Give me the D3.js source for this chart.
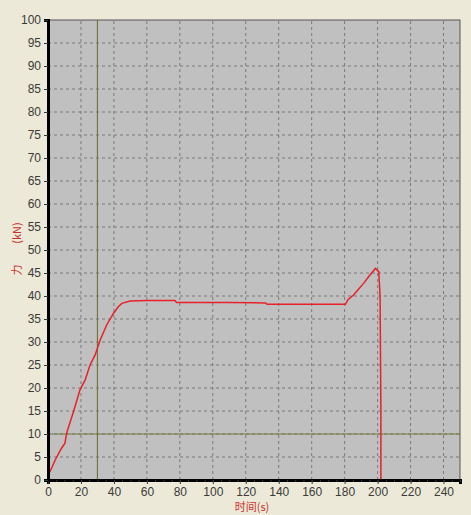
<!DOCTYPE html>
<html>
<head>
<meta charset="utf-8">
<script src="https://cdn.jsdelivr.net/npm/d3@7"></script>
<style>
  body { margin: 0; background: #ece9d8; }
  svg { display: block; }
  .tick text { font-family: "Liberation Sans", Arial, sans-serif; font-size: 12px; fill: #3a3a3a; }
</style>
</head>
<body>
<div id="chart"></div>
<script>
// time (s) and force (kN)
const timeS  = [0, 1.2, 4.3, 8, 10.3, 11.3, 15.4, 19.4, 22.5, 25.5, 28.6, 31.6, 35.6, 39.7, 42.5, 44.8, 49.8, 60, 77, 78, 110, 132, 133, 160, 180.5, 182, 185.4, 188, 191.6, 195, 198.7, 200.7, 201.5, 202, 202];
const forceKN = [1.6, 1.8, 4.3, 6.8, 8, 10.2, 14.8, 19.6, 21.7, 25, 27.2, 30.4, 33.7, 36.2, 37.6, 38.4, 38.9, 39, 39, 38.6, 38.6, 38.5, 38.2, 38.2, 38.2, 39.2, 40.2, 41.3, 42.8, 44.4, 46, 45.3, 40, 15, 0];
const xTicks = d3.range(0, 241, 20);
const yTicks = d3.range(0, 101, 5);
const markerTime = 30;
const markerForce = 10;

const W = 471, H = 515;
const margin = { left: 48, top: 20, right: 11, bottom: 35 };

const svg = d3.select("#chart").append("svg")
  .attr("width", W).attr("height", H);

const x = d3.scaleLinear().domain([0, 250]).range([margin.left, W - margin.right]);
const y = d3.scaleLinear().domain([0, 100]).range([H - margin.bottom, margin.top]);

svg.append("rect")
  .attr("x", x(0)).attr("y", y(100))
  .attr("width", x(250) - x(0)).attr("height", y(0) - y(100))
  .attr("fill", "#c0c0c0")
  .attr("stroke", "#555").attr("stroke-width", 1);

// dashed grid
svg.append("g").selectAll("line").data(xTicks.filter(d => d > 0)).join("line")
  .attr("x1", d => x(d)).attr("x2", d => x(d))
  .attr("y1", y(0)).attr("y2", y(100))
  .attr("stroke", "#7a7a7a").attr("stroke-dasharray", "3,3");
svg.append("g").selectAll("line").data(yTicks.filter(d => d > 0 && d < 100)).join("line")
  .attr("x1", x(0)).attr("x2", x(250))
  .attr("y1", d => y(d)).attr("y2", d => y(d))
  .attr("stroke", "#7a7a7a").attr("stroke-dasharray", "3,3");

// marker lines
svg.append("line")
  .attr("x1", x(markerTime)).attr("x2", x(markerTime))
  .attr("y1", y(0)).attr("y2", y(100))
  .attr("stroke", "#76763c").attr("stroke-width", 1.2);
svg.append("line")
  .attr("x1", x(0)).attr("x2", x(250))
  .attr("y1", y(markerForce)).attr("y2", y(markerForce))
  .attr("stroke", "#76763c").attr("stroke-width", 1.2);

// curve
const pts = timeS.map((t, i) => [t, forceKN[i]]);
svg.append("path")
  .datum(pts)
  .attr("fill", "none")
  .attr("stroke", "#e8202a")
  .attr("stroke-width", 1.5)
  .attr("d", d3.line().x(d => x(d[0])).y(d => y(d[1])));

// axes
const xAxis = svg.append("g")
  .attr("transform", `translate(0,${y(0)})`)
  .call(d3.axisBottom(x).tickValues(xTicks).tickSize(4).tickPadding(3));
svg.append("g")
  .attr("transform", `translate(0,${y(0)})`)
  .call(d3.axisBottom(x).tickValues(d3.range(0, 251, 5)).tickSize(2).tickFormat(""))
  .call(g => g.select(".domain").remove());
xAxis.select(".domain").attr("stroke", "#000").attr("stroke-width", 3);

const yAxis = svg.append("g")
  .attr("transform", `translate(${x(0)},0)`)
  .call(d3.axisLeft(y).tickValues(yTicks).tickSize(4).tickPadding(3));
yAxis.select(".domain").attr("stroke", "#000").attr("stroke-width", 3);

svg.selectAll(".tick line").attr("stroke", "#333");

// labels
const labelStyle = sel => sel
  .attr("fill", "#c8322e")
  .style("font-family", "'Noto Sans CJK SC', sans-serif")
  .style("font-size", "11px");

svg.append("text")
  .attr("transform", "translate(21,270) rotate(-90)")
  .attr("text-anchor", "middle")
  .call(labelStyle)
  .text("力");
svg.append("text")
  .attr("transform", "translate(21,233) rotate(-90)")
  .attr("text-anchor", "middle")
  .call(labelStyle)
  .text("(kN)");

svg.append("text")
  .attr("x", 252).attr("y", 511)
  .attr("text-anchor", "middle")
  .call(labelStyle)
  .text("时间(s)");
</script>
</body>
</html>
